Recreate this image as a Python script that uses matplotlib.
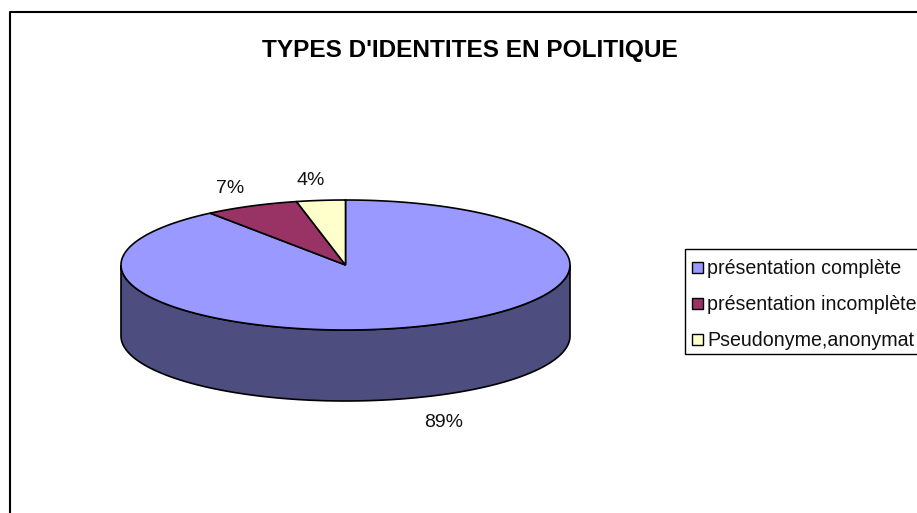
import numpy as np
import matplotlib
matplotlib.use('Agg')
import matplotlib.pyplot as plt
from matplotlib.patches import Polygon, Rectangle

plt.rcParams['font.family'] = ['Liberation Sans', 'DejaVu Sans']

# Datos
title = "TYPES D'IDENTITES EN POLITIQUE"
categories = ['présentation complète', 'présentation incomplète', 'Pseudonyme,anonymat']
values = [89.7, 6.8, 3.5]
labels = ['89%', '7%', '4%']
colors = ['#9999FF', '#993366', '#FFFFCC']
side_color = '#4D4D80'

W, H = 917, 513
fig = plt.figure(figsize=(W / 100, H / 100), dpi=100)
ax = fig.add_axes([0, 0, 1, 1])
ax.set_xlim(0, W)
ax.set_ylim(H, 0)
ax.axis('off')

# Marco del grafico (solo se ven arriba y a la izquierda)
ax.plot([10, 10, W], [H, 12, 12], color='black', lw=1.5, solid_capstyle='butt')

cx, cy, rx, ry, depth = 345.5, 265, 224.5, 65, 71


def point(ang):
    # angulo en grados, 0 arriba, sentido horario
    a = np.radians(ang)
    return cx + rx * np.sin(a), cy - ry * np.cos(a)


# Pared lateral
ang = np.linspace(90, 270, 200)
xs, ys = point(ang)
wall = np.column_stack([np.r_[xs, xs[::-1]], np.r_[ys, ys[::-1] + depth]])
ax.add_patch(Polygon(wall, closed=True, facecolor=side_color, edgecolor='black', lw=1.2))

# Sectores
start = 0
total = sum(values)
for v, c in zip(values, colors):
    end = start + v / total * 360
    ang = np.linspace(start, end, 300)
    xs, ys = point(ang)
    pts = np.column_stack([np.r_[cx, xs], np.r_[cy, ys]])
    ax.add_patch(Polygon(pts, closed=True, facecolor=c, edgecolor='black', lw=1.2, joinstyle='miter'))
    start = end

# Etiquetas de porcentaje
label_pos = [(444, 422.5), (230.5, 188.5), (310.5, 180.5)]
for s, (lx, ly) in zip(labels, label_pos):
    ax.text(lx, ly, s, fontsize=14, ha='center', va='center', color='#111111')

ax.text(469.5, 50.5, title, fontsize=17.6, fontweight='bold', ha='center', va='center', color='black')

# Leyenda
ax.add_patch(Rectangle((685, 248.5), 240, 105.5, facecolor='white', edgecolor='black', lw=1, clip_on=True))
for i, (name, c) in enumerate(zip(categories, colors)):
    y = 267.5 + i * 35.75
    ax.add_patch(Rectangle((692, y - 5.5), 11, 11, facecolor=c, edgecolor='black', lw=1))
    ax.text(707, y + 1, name, fontsize=14.1, ha='left', va='center', color='#111111')

fig.savefig('out.png', dpi=100)
